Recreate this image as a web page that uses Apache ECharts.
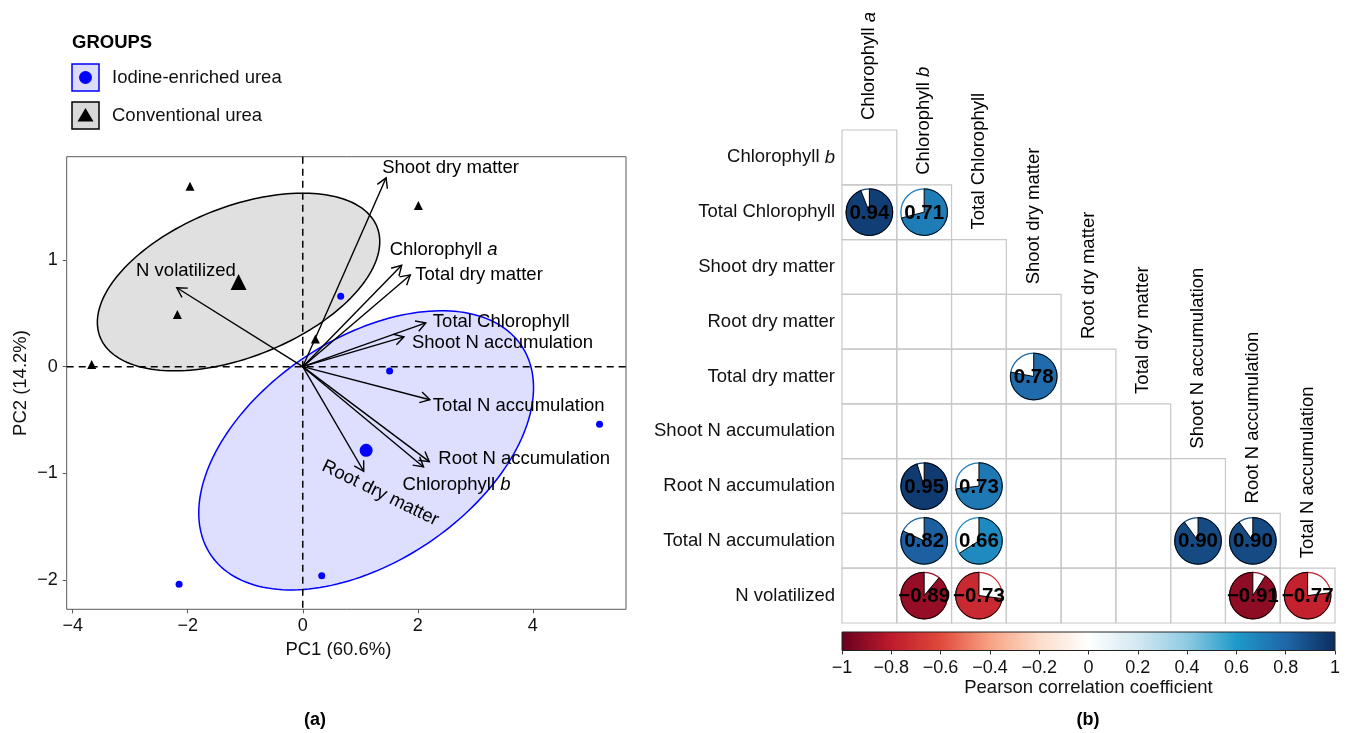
<!DOCTYPE html>
<html><head><meta charset="utf-8">
<script src="https://cdn.jsdelivr.net/npm/echarts@6/dist/echarts.min.js"></script>
<style>html,body{margin:0;padding:0;background:#fff}#c{width:1349px;height:733px}</style>
</head><body><div id="c"></div>
<script>
// ================= DATA =================
// PCA scores
const groupNames = ['Iodine-enriched urea', 'Conventional urea'];
const iodinePC1 = [0.66, 1.51, 5.16, 0.33, -2.15];
const iodinePC2 = [0.66, -0.04, -0.54, -1.96, -2.04];
const convPC1 = [-1.96, 2.01, -2.18, -3.67, 0.22];
const convPC2 = [1.69, 1.51, 0.49, 0.02, 0.26];
// PCA loadings (arrow tips)
const loadingNames = ['Shoot dry matter', 'Chlorophyll a', 'Total dry matter', 'Total Chlorophyll',
  'Shoot N accumulation', 'Total N accumulation', 'Root N accumulation', 'Chlorophyll b',
  'Root dry matter', 'N volatilized'];
const loadingPC1 = [1.45, 1.72, 1.87, 2.14, 1.76, 2.21, 2.20, 2.10, 1.06, -2.19];
const loadingPC2 = [1.77, 0.95, 0.86, 0.41, 0.28, -0.31, -0.89, -0.94, -0.98, 0.74];
const pcaXTicks = [-4, -2, 0, 2, 4];
const pcaYTicks = [-2, -1, 0, 1];
const pcaXTitle = 'PC1 (60.6%)';
const pcaYTitle = 'PC2 (14.2%)';

// Correlation matrix (panel b)
const corrRowVars = ['Chlorophyll b', 'Total Chlorophyll', 'Shoot dry matter', 'Root dry matter',
  'Total dry matter', 'Shoot N accumulation', 'Root N accumulation', 'Total N accumulation', 'N volatilized'];
const corrColVars = ['Chlorophyll a', 'Chlorophyll b', 'Total Chlorophyll', 'Shoot dry matter',
  'Root dry matter', 'Total dry matter', 'Shoot N accumulation', 'Root N accumulation', 'Total N accumulation'];
const corrCells = [
  ['Total Chlorophyll', 'Chlorophyll a', 0.94],
  ['Total Chlorophyll', 'Chlorophyll b', 0.71],
  ['Total dry matter', 'Shoot dry matter', 0.78],
  ['Root N accumulation', 'Chlorophyll b', 0.95],
  ['Root N accumulation', 'Total Chlorophyll', 0.73],
  ['Total N accumulation', 'Chlorophyll b', 0.82],
  ['Total N accumulation', 'Total Chlorophyll', 0.66],
  ['Total N accumulation', 'Shoot N accumulation', 0.90],
  ['Total N accumulation', 'Root N accumulation', 0.90],
  ['N volatilized', 'Chlorophyll b', -0.89],
  ['N volatilized', 'Total Chlorophyll', -0.73],
  ['N volatilized', 'Root N accumulation', -0.91],
  ['N volatilized', 'Total N accumulation', -0.77]
];
const colorbarTitle = 'Pearson correlation coefficient';

// ================= STYLE / LAYOUT =================
const FONT = '"Liberation Sans", Arial, Helvetica, sans-serif';
const FS = 18.5;
const ellipseScale = 1.1;
const paletteStops = ['#67001F', '#BD1A2B', '#E0493B', '#F7A283', '#FCDCC9', '#FFFFFF',
  '#D2E8F1', '#8ECAE2', '#1D9AC9', '#1F66A8', '#0B2D5E'];
// label offsets (px) relative to arrow tips
const loadingLabelLayout = {
  'Shoot dry matter': { dx: -4, dy: -10 },
  'Chlorophyll a': { dx: -12, dy: -15 },
  'Total dry matter': { dx: 5, dy: 0 },
  'Total Chlorophyll': { dx: 7, dy: -1 },
  'Shoot N accumulation': { dx: 8, dy: 6 },
  'Total N accumulation': { dx: 3, dy: 6 },
  'Root N accumulation': { dx: 9, dy: -3 },
  'Chlorophyll b': { dx: -21, dy: 18 },
  'Root dry matter': { dx: 16.5, dy: 22, align: 'center', rot: -26 },
  'N volatilized': { dx: -40.7, dy: -16.6 }
};
const X_MIN = -4.104, X_MAX = 5.62, Y_MIN = -2.274, Y_MAX = 1.968;

// ================= HELPERS =================
function mean(a) { return a.reduce((s, v) => s + v, 0) / a.length; }
function ellipsePts(xs, ys, k, n) {
  const mx = mean(xs), my = mean(ys);
  let sxx = 0, syy = 0, sxy = 0;
  for (let i = 0; i < xs.length; i++) {
    const dx = xs[i] - mx, dy = ys[i] - my;
    sxx += dx * dx; syy += dy * dy; sxy += dx * dy;
  }
  const m = xs.length - 1; sxx /= m; syy /= m; sxy /= m;
  const a = Math.sqrt(sxx), b = sxy / a, c = Math.sqrt(syy - b * b);
  const pts = [];
  for (let i = 0; i <= n; i++) {
    const t = 2 * Math.PI * i / n;
    pts.push([mx + k * a * Math.cos(t), my + k * (b * Math.cos(t) + c * Math.sin(t))]);
  }
  return pts;
}
function richName(s) {
  const m = s.match(/^(Chlorophyll) ([ab])$/);
  return m ? '{n|' + m[1] + ' }{i|' + m[2] + '}' : '{n|' + s + '}';
}
function richStyle(size) {
  return {
    n: { fontSize: size, fontFamily: FONT, color: '#111' },
    i: { fontSize: size, fontFamily: FONT, color: '#111', fontStyle: 'italic' }
  };
}
function hex2rgb(h) { return [parseInt(h.substr(1, 2), 16), parseInt(h.substr(3, 2), 16), parseInt(h.substr(5, 2), 16)]; }
function corrColor(v) {
  const p = (v + 1) / 2 * (paletteStops.length - 1);
  const i = Math.max(0, Math.min(paletteStops.length - 2, Math.floor(p)));
  const f = p - i;
  const a = hex2rgb(paletteStops[i]), b = hex2rgb(paletteStops[i + 1]);
  const c = a.map((x, j) => Math.round(x + (b[j] - x) * f));
  return 'rgb(' + c.join(',') + ')';
}
const minusFmt = v => String(v).replace('-', '\u2212');

const ellipses = [
  { pts: ellipsePts(iodinePC1, iodinePC2, ellipseScale, 180), fill: 'rgba(0,0,255,0.13)', stroke: '#0000ff' },
  { pts: ellipsePts(convPC1, convPC2, ellipseScale, 180), fill: 'rgba(0,0,0,0.12)', stroke: '#000000' }
];

// ================= CHART =================
const chart = echarts.init(document.getElementById('c'), null, { renderer: 'canvas' });
const axisTxt = { fontSize: 18, fontFamily: FONT, color: '#111' };

const cellsData = [];
corrRowVars.forEach((r, ri) => { corrColVars.forEach((c, ci) => { if (ci <= ri) cellsData.push([ci, ri]); }); });
const pieData = corrCells.map(d => [corrColVars.indexOf(d[1]), corrRowVars.indexOf(d[0]), d[2]]);
const colLabelData = corrColVars.map((c, i) => [i, i]);

const option = {
  animation: false,
  backgroundColor: '#fff',
  grid: [
    { left: 66.7, top: 156.7, width: 559.3, height: 452.6, show: true, borderColor: '#5a5a5a', borderWidth: 1, backgroundColor: 'transparent' },
    { left: 842, top: 130, width: 493, height: 493 },
    { left: 842, top: 632, width: 493, height: 18.5 }
  ],
  xAxis: [
    {
      gridIndex: 0, type: 'value', min: X_MIN, max: X_MAX,
      name: pcaXTitle, nameLocation: 'middle', nameGap: 30,
      nameTextStyle: { fontSize: FS, fontFamily: FONT, color: '#111', padding: [0, 16, 0, 0] },
      axisLine: { show: false, onZero: false },
      axisTick: { show: true, length: 4, lineStyle: { color: '#5a5a5a' }, customValues: pcaXTicks },
      axisLabel: { customValues: pcaXTicks, formatter: minusFmt, margin: 8, ...axisTxt },
      splitLine: { show: false }
    },
    { gridIndex: 1, type: 'category', data: corrColVars, show: false },
    {
      gridIndex: 2, type: 'value', min: -1, max: 1, interval: 0.2,
      name: colorbarTitle, nameLocation: 'middle', nameGap: 28,
      nameTextStyle: { fontSize: FS, fontFamily: FONT, color: '#111' },
      axisLine: { show: false, onZero: false },
      axisTick: { show: true, length: 4, lineStyle: { color: '#333' } },
      axisLabel: { formatter: minusFmt, margin: 9, ...axisTxt },
      splitLine: { show: false }
    }
  ],
  yAxis: [
    {
      gridIndex: 0, type: 'value', min: Y_MIN, max: Y_MAX,
      name: pcaYTitle, nameLocation: 'middle', nameGap: 36,
      nameTextStyle: { fontSize: FS, fontFamily: FONT, color: '#111' },
      axisLine: { show: false, onZero: false },
      axisTick: { show: true, length: 4, lineStyle: { color: '#5a5a5a' }, customValues: pcaYTicks },
      axisLabel: { customValues: pcaYTicks, formatter: minusFmt, margin: 9, ...axisTxt },
      splitLine: { show: false }
    },
    {
      gridIndex: 1, type: 'category', data: corrRowVars, inverse: true,
      axisLine: { show: false }, axisTick: { show: false }, splitLine: { show: false },
      axisLabel: { margin: 7, formatter: v => richName(v), rich: richStyle(FS) }
    },
    { gridIndex: 2, type: 'value', min: 0, max: 1, show: false }
  ],
  series: [
    // ellipses
    {
      type: 'custom', xAxisIndex: 0, yAxisIndex: 0, z: 1, silent: true,
      data: [[mean(iodinePC1), mean(iodinePC2)], [mean(convPC1), mean(convPC2)]],
      renderItem: (params, api) => {
        const e = ellipses[params.dataIndex];
        return { type: 'polygon', shape: { points: e.pts.map(p => api.coord(p)) },
          style: { fill: e.fill, stroke: e.stroke, lineWidth: 1.5 } };
      }
    },
    // dashed reference lines
    {
      type: 'custom', xAxisIndex: 0, yAxisIndex: 0, z: 2, silent: true,
      data: [[0, 0]],
      renderItem: (params, api) => {
        const t = api.coord([0, Y_MAX]), b = api.coord([0, Y_MIN]);
        const l = api.coord([X_MIN, 0]), r = api.coord([X_MAX, 0]);
        const st = { stroke: '#000', lineWidth: 1.5, lineDash: [7, 5] };
        return { type: 'group', children: [
          { type: 'line', shape: { x1: t[0], y1: t[1], x2: b[0], y2: b[1] }, style: st },
          { type: 'line', shape: { x1: l[0], y1: l[1], x2: r[0], y2: r[1] }, style: st }
        ] };
      }
    },
    // loading arrows + labels
    {
      type: 'custom', xAxisIndex: 0, yAxisIndex: 0, z: 3, silent: true,
      data: loadingNames.map((n, i) => [loadingPC1[i], loadingPC2[i]]),
      renderItem: (params, api) => {
        const name = loadingNames[params.dataIndex];
        const o = api.coord([0, 0]);
        const t = api.coord([api.value(0), api.value(1)]);
        const ang = Math.atan2(t[1] - o[1], t[0] - o[0]);
        const L = 11, hw = Math.PI / 6;
        const h1 = [t[0] - L * Math.cos(ang - hw), t[1] - L * Math.sin(ang - hw)];
        const h2 = [t[0] - L * Math.cos(ang + hw), t[1] - L * Math.sin(ang + hw)];
        const lay = loadingLabelLayout[name];
        const st = { stroke: '#000', lineWidth: 1.4 };
        return { type: 'group', children: [
          { type: 'line', shape: { x1: o[0], y1: o[1], x2: t[0], y2: t[1] }, style: st },
          { type: 'polyline', shape: { points: [h1, t, h2] }, style: { ...st, fill: null } },
          { type: 'text', x: t[0] + lay.dx, y: t[1] + lay.dy, rotation: (lay.rot || 0) * Math.PI / 180,
            style: { text: richName(name), rich: richStyle(FS), align: lay.align || 'left', verticalAlign: 'middle',
              textAlign: lay.align || 'left', textVerticalAlign: 'middle' } }
        ] };
      }
    },
    {
      name: groupNames[0], type: 'scatter', xAxisIndex: 0, yAxisIndex: 0, z: 4,
      symbol: 'circle', symbolSize: 7, itemStyle: { color: '#0000ff', opacity: 1 },
      data: iodinePC1.map((x, i) => [x, iodinePC2[i]])
    },
    {
      name: groupNames[0] + ' centroid', type: 'scatter', xAxisIndex: 0, yAxisIndex: 0, z: 4,
      symbol: 'circle', symbolSize: 13, itemStyle: { color: '#0000ff', opacity: 1 },
      data: [[mean(iodinePC1), mean(iodinePC2)]]
    },
    {
      name: groupNames[1], type: 'scatter', xAxisIndex: 0, yAxisIndex: 0, z: 4,
      symbol: 'triangle', symbolSize: 9, itemStyle: { color: '#000', opacity: 1 },
      data: convPC1.map((x, i) => [x, convPC2[i]])
    },
    {
      name: groupNames[1] + ' centroid', type: 'scatter', xAxisIndex: 0, yAxisIndex: 0, z: 4,
      symbol: 'triangle', symbolSize: 16, itemStyle: { color: '#000', opacity: 1 },
      data: [[mean(convPC1), mean(convPC2)]]
    },
    // correlation cells
    {
      type: 'custom', xAxisIndex: 1, yAxisIndex: 1, z: 1, silent: true,
      data: cellsData,
      renderItem: (params, api) => {
        const c = api.coord([api.value(0), api.value(1)]);
        const s = api.size([1, 1]);
        return { type: 'rect', shape: { x: c[0] - s[0] / 2, y: c[1] - s[1] / 2, width: s[0], height: s[1] },
          style: { fill: null, stroke: '#c8c8c8', lineWidth: 1.2 } };
      }
    },
    // pies
    {
      type: 'custom', xAxisIndex: 1, yAxisIndex: 1, z: 2, silent: true,
      data: pieData,
      renderItem: (params, api) => {
        const v = api.value(2);
        const c = api.coord([api.value(0), api.value(1)]);
        const s = api.size([1, 1]);
        const r = s[0] * 0.425;
        const col = corrColor(v);
        const start = -Math.PI / 2;
        const end = v >= 0 ? start + 2 * Math.PI * v : start - 2 * Math.PI * Math.abs(v);
        return { type: 'group', children: [
          { type: 'circle', shape: { cx: c[0], cy: c[1], r: r }, style: { fill: '#fff', stroke: col, lineWidth: 1.3 } },
          { type: 'sector', shape: { cx: c[0], cy: c[1], r: r, r0: 0, startAngle: start, endAngle: end, clockwise: v >= 0 },
            style: { fill: col, stroke: '#000', lineWidth: 1 } },
          { type: 'text', x: c[0], y: c[1] + 1,
            style: { text: minusFmt(v.toFixed(2)), fill: '#000', font: 'bold 20.5px ' + FONT,
              align: 'center', verticalAlign: 'middle', textAlign: 'center', textVerticalAlign: 'middle' } }
        ] };
      }
    },
    // column labels (staggered, rotated)
    {
      type: 'custom', xAxisIndex: 1, yAxisIndex: 1, z: 3, silent: true,
      data: colLabelData,
      renderItem: (params, api) => {
        const c = api.coord([api.value(0), api.value(1)]);
        const s = api.size([1, 1]);
        return { type: 'text', x: c[0], y: c[1] - s[1] / 2 - 10, rotation: Math.PI / 2,
          style: { text: richName(corrColVars[params.dataIndex]), rich: richStyle(FS),
            align: 'left', verticalAlign: 'middle', textAlign: 'left', textVerticalAlign: 'middle' } };
      }
    },
    // colorbar
    {
      type: 'custom', xAxisIndex: 2, yAxisIndex: 2, z: 2, silent: true,
      data: [[-1, 0]],
      renderItem: (params, api) => {
        const a = api.coord([-1, 1]), b = api.coord([1, 0]);
        const stops = paletteStops.map((c, i) => ({ offset: i / (paletteStops.length - 1), color: c }));
        return { type: 'rect', shape: { x: a[0], y: a[1], width: b[0] - a[0], height: b[1] - a[1] },
          style: { fill: { type: 'linear', x: 0, y: 0, x2: 1, y2: 0, colorStops: stops }, stroke: '#222', lineWidth: 1 } };
      }
    }
  ],
  graphic: [
    { type: 'text', x: 72, y: 43, style: { text: 'GROUPS', font: 'bold 18.5px ' + FONT, fill: '#000', textVerticalAlign: 'middle', verticalAlign: 'middle' } },
    { type: 'rect', shape: { x: 72, y: 64, width: 27, height: 27 }, style: { fill: '#dcdcf8', stroke: '#0000ff', lineWidth: 1.5 } },
    { type: 'circle', shape: { cx: 85.5, cy: 77.5, r: 6.5 }, style: { fill: '#0000ff' } },
    { type: 'text', x: 112, y: 78, style: { text: groupNames[0], font: FS + 'px ' + FONT, fill: '#111', textVerticalAlign: 'middle', verticalAlign: 'middle' } },
    { type: 'rect', shape: { x: 72, y: 102, width: 27, height: 27 }, style: { fill: '#d9d9d9', stroke: '#000', lineWidth: 1.5 } },
    { type: 'polygon', shape: { points: [[85.5, 108], [93.5, 121.5], [77.5, 121.5]] }, style: { fill: '#000' } },
    { type: 'text', x: 112, y: 116, style: { text: groupNames[1], font: FS + 'px ' + FONT, fill: '#111', textVerticalAlign: 'middle', verticalAlign: 'middle' } },
    { type: 'text', x: 315, y: 720, style: { text: '(a)', font: 'bold 18px ' + FONT, fill: '#000', textAlign: 'center', align: 'center', textVerticalAlign: 'middle', verticalAlign: 'middle' } },
    { type: 'text', x: 1088, y: 720, style: { text: '(b)', font: 'bold 18px ' + FONT, fill: '#000', textAlign: 'center', align: 'center', textVerticalAlign: 'middle', verticalAlign: 'middle' } }
  ]
};
chart.setOption(option);
</script>
</body></html>
